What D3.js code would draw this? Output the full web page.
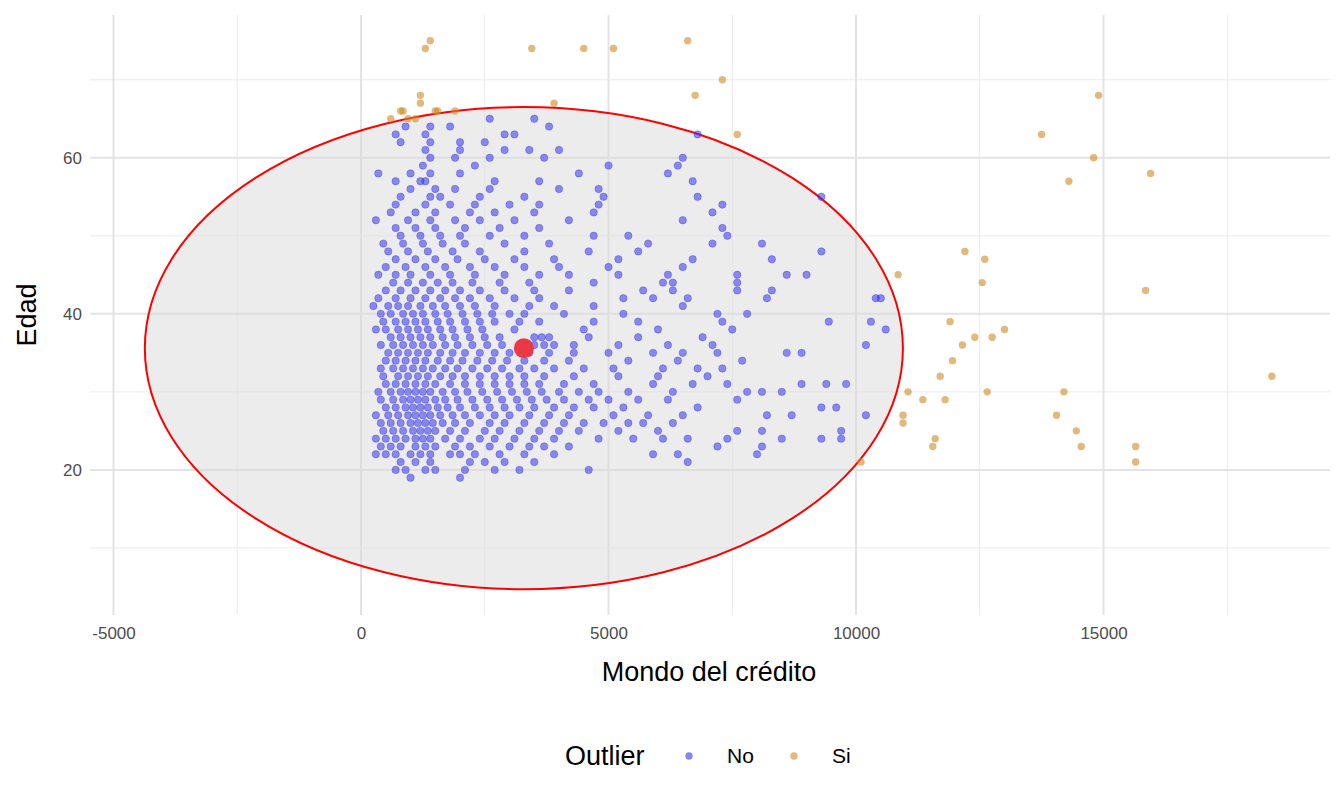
<!DOCTYPE html>
<html><head><meta charset="utf-8">
<script src="https://cdn.jsdelivr.net/npm/d3@7"></script>
<style>body{margin:0;background:#fff}svg{font-family:"Liberation Sans",Arial,sans-serif}</style>
</head><body><svg id="c" width="1344" height="806"></svg>
<script>
const xTicks=[-5000,0,5000,10000,15000];
const yTicks=[20,40,60];
// "No" points: rows of [age, credit amounts...]
const noRows=[
[19,1000,2000],
[20,700,900,1300,1500,2100,2700,3200,4600],
[21,800,1100,1400,2200,2500,2900,3500,6600],
[22,300,500,700,1000,1200,1400,1800,2000,2300,2800,3300,3900,5900,6400,8000],
[23,400,600,800,1100,1300,1500,1900,2200,2600,3000,3400,3700,4200,7200,8100],
[24,300,500,700,900,1100,1250,1400,1700,2000,2400,2700,3100,3500,3900,4800,5500,6100,6600,7400,8500,9300,9700],
[25,450,650,850,1050,1200,1350,1500,1800,2100,2500,2800,3200,3600,4000,4400,5200,6000,7600,8100,9700],
[26,400,600,800,1000,1150,1300,1450,1650,1900,2200,2600,2900,3300,3700,4100,4500,4900,5400,5700,6300],
[27,300,550,750,950,1100,1250,1400,1600,1850,2100,2400,2700,3000,3400,3800,4200,5100,5800,6500,8200,8700,10200],
[28,500,700,900,1050,1200,1350,1550,1750,2000,2300,2600,2900,3200,3500,3900,4300,4700,5300,6800,9300,9600],
[29,400,650,850,1000,1150,1300,1500,1700,1950,2250,2550,2850,3150,3450,3750,4100,4600,5000,5600,6200,7600],
[30,350,600,800,950,1100,1250,1400,1650,1900,2150,2450,2750,3050,3350,3650,4000,4400,4800,5400,6300,7800,8100,8500],
[31,500,700,900,1100,1300,1500,1800,2100,2400,2700,3000,3300,3600,4100,4700,5900,6700,7400,8900,9400,9800],
[32,450,750,950,1150,1350,1600,1850,2100,2400,2700,3000,3300,3700,4300,5200,6000,7000],
[33,400,650,850,1050,1250,1450,1700,1950,2250,2550,2850,3200,3500,3900,4500,5100,6100,6800,7300],
[34,500,700,900,1100,1300,1550,1800,2050,2350,2650,2950,3300,3700,4200,5400,6400,7700],
[35,550,750,950,1150,1350,1600,1850,2100,2400,2700,3000,3400,3800,4300,5000,5900,6500,7200,8600,8900],
[36,400,650,850,1050,1250,1450,1700,1950,2250,2550,2850,3500,3700,3900,4300,5200,6200,7100,10200],
[37,600,800,1000,1200,1400,1650,1900,2200,2500,2800,3500,3650,3800,4600,5600,6900],
[38,300,500,750,950,1150,1350,1600,1850,2150,2450,3100,4500,6000,7500,10600],
[39,450,700,900,1100,1300,1550,1800,2100,2400,2700,3200,3600,4700,5600,7300,9450,10300],
[40,400,600,850,1050,1250,1500,1750,2050,2350,2650,3000,3300,4100,5300,7200,7800],
[41,250,550,750,950,1200,1450,1700,2000,2300,2700,3400,3900,4700,6500],
[42,350,700,1000,1300,1600,1900,2200,2600,3100,3600,5300,5900,6600,8200,10400,10500],
[43,500,800,1100,1400,1700,2000,2400,2900,3500,4200,5700,6300,7600,8300],
[44,650,950,1250,1550,1850,2250,2800,3400,4700,6100,6300,7600],
[45,350,700,1000,1400,1800,2300,2900,3600,4200,5200,6200,7600,8600,9000],
[46,500,900,1300,1700,2200,2700,3300,4000,5000,6500],
[47,700,1100,1500,1950,2500,3100,3900,5200,6700,8300],
[48,550,950,1350,1850,2400,3300,4600,5600,9300],
[49,450,850,1250,1650,2100,2900,3800,5800,7100,8100],
[50,800,1200,1600,2000,2600,3300,4700,5400,7400],
[51,700,1100,1500,2100,2800,3600,7300],
[52,300,950,1400,1900,2400,3100,4200,6500],
[53,600,1100,1500,2200,2700,3500,4700,7100],
[54,700,1300,1800,2300,3000,3600,4800,7300],
[55,800,1400,1600,2400,3300,4900,6800,9300],
[56,1000,1500,1900,2600,4000,4800],
[57,700,1200,1300,2700,3600,6700],
[58,350,1000,1400,2000,4400,6200],
[59,1250,2300,5000,6400],
[60,1400,1900,2600,3700,6500],
[61,1300,2000,2900,3400,4000],
[62,800,1400,2000,2500],
[63,700,1300,2900,3100,6800],
[64,900,1400,1800,3800],
[65,2600,3500]
];
const siCredit=[1400,1300,3450,4500,5100,6600,7300,6750,3900,7600,1200,1200,800,850,1500,1550,1900,600,950,1100,14900,13750,14800,14300,15950,15850,10850,12200,12600,12550,11900,13000,12400,12750,12150,11950,11700,18400,11050,12650,14200,11350,11800,10950,10950,14050,14450,11600,11550,14550,15650,15650,10100];
const siAge=[75,74,74,74,74,75,70,68,67,63,68,67,66,66,66,66,66,65,65,65,68,63,60,57,58,43,45,48,47,44,39,38,37,37,36,34,32,32,30,30,30,29,29,27,26,27,25,24,23,23,23,21,21];
const center=[3290,35.6], semi=[7657,30.9];

const svg=d3.select('#c');
const L=90,R=1330,T=15,B=615;
const x=d3.scaleLinear().domain([-5475,19575]).range([L,R]);
const y=d3.scaleLinear().domain([1.4,78.3]).range([B,T]);
const g=svg.append('g');
[-2500,2500,7500,12500,17500].forEach(v=>g.append('line').attr('x1',x(v)).attr('x2',x(v)).attr('y1',T).attr('y2',B).attr('stroke','#ebebeb').attr('stroke-width',1));
[10,30,50,70].forEach(v=>g.append('line').attr('x1',L).attr('x2',R).attr('y1',y(v)).attr('y2',y(v)).attr('stroke','#ebebeb').attr('stroke-width',1));
xTicks.forEach(v=>g.append('line').attr('x1',x(v)).attr('x2',x(v)).attr('y1',T).attr('y2',B).attr('stroke','#e3e3e3').attr('stroke-width',2));
yTicks.forEach(v=>g.append('line').attr('x1',L).attr('x2',R).attr('y1',y(v)).attr('y2',y(v)).attr('stroke','#e3e3e3').attr('stroke-width',2));
svg.append('ellipse').attr('cx',x(center[0])).attr('cy',y(center[1]))
 .attr('rx',x(center[0]+semi[0])-x(center[0])).attr('ry',y(center[1])-y(center[1]+semi[1]))
 .attr('fill','#d9d9d9').attr('fill-opacity',0.5).attr('stroke','#ff0000').attr('stroke-width',2);
const noPts=noRows.flatMap(r=>r.slice(1).map(c=>[c,r[0]]));
svg.append('g').selectAll('circle').data(noPts).join('circle')
 .attr('cx',d=>x(d[0])).attr('cy',d=>y(d[1])).attr('r',3.7).attr('fill','#3535ee').attr('fill-opacity',0.55).attr('stroke','#3535ee').attr('stroke-opacity',0.35);
svg.append('g').selectAll('circle').data(siCredit.map((c,i)=>[c,siAge[i]])).join('circle')
 .attr('cx',d=>x(d[0])).attr('cy',d=>y(d[1])).attr('r',3.7).attr('fill','#cf8a26').attr('fill-opacity',0.6);
svg.append('circle').attr('cx',x(center[0])).attr('cy',y(center[1])).attr('r',10).attr('fill','#ec3844');
const ax=svg.append('g').attr('transform',`translate(0,${B+2})`).call(d3.axisBottom(x).tickValues(xTicks).tickSize(0).tickPadding(10).tickFormat(d=>String(d)));
const ay=svg.append('g').attr('transform',`translate(${L},0)`).call(d3.axisLeft(y).tickValues(yTicks).tickSize(0).tickPadding(8));
[ax,ay].forEach(a=>{a.select('.domain').remove();a.selectAll('text').attr('font-size',17).attr('fill','#4d4d4d').attr('font-family','"Liberation Sans",Arial,sans-serif');});
svg.append('text').attr('x',709).attr('y',681).attr('text-anchor','middle').attr('font-size',27).text('Mondo del crédito');
svg.append('text').attr('transform',`translate(36,${(T+B)/2}) rotate(-90)`).attr('text-anchor','middle').attr('font-size',27).text('Edad');
svg.append('text').attr('x',565).attr('y',765).attr('font-size',27).text('Outlier');
svg.append('circle').attr('cx',689).attr('cy',756).attr('r',3.7).attr('fill','#3535ee').attr('fill-opacity',0.6);
svg.append('text').attr('x',727).attr('y',763).attr('font-size',21).text('No');
svg.append('circle').attr('cx',794).attr('cy',756).attr('r',3.7).attr('fill','#cf8a26').attr('fill-opacity',0.6);
svg.append('text').attr('x',832).attr('y',763).attr('font-size',21).text('Si');
</script></body></html>
